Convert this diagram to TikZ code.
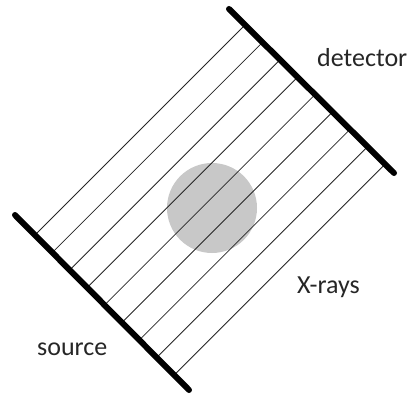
\documentclass[tikz,border=0pt]{standalone}
\usepackage{fontspec}
\setmainfont{Carlito}
\definecolor{blobgray}{RGB}{200,200,200}
\begin{document}
\begin{tikzpicture}[x=1pt,y=-1pt,
  plate/.style={line width=6pt,line cap=round,black},
  ray/.style={line width=0.8pt,black!85},
  lbl/.style={font=\fontsize{26}{30}\selectfont,text=black!85,inner sep=0pt,anchor=base west}]
\useasboundingbox (0,0) rectangle (419,398);
\fill[blobgray] (212,208) circle (45);
\foreach \i in {0,...,8}{
  \coordinate (s\i) at ({35+17.45*\i},{235+17.45*\i});
  \coordinate (d\i) at ({245+17.45*\i},{25+17.45*\i});
  \draw[ray] (s\i) -- (d\i);
}
\coordinate (srcA) at (15,215);
\coordinate (srcB) at (189,390);
\coordinate (detA) at (229,9);
\coordinate (detB) at (394,173);
\draw[plate] (srcA) -- (srcB);
\draw[plate] (detA) -- (detB);
\node[lbl] (detlbl) at (317,67) {detector};
\node[lbl] (xlbl) at (297,293) {X-rays};
\node[lbl] (srclbl) at (37,355) {source};
\end{tikzpicture}
\end{document}
